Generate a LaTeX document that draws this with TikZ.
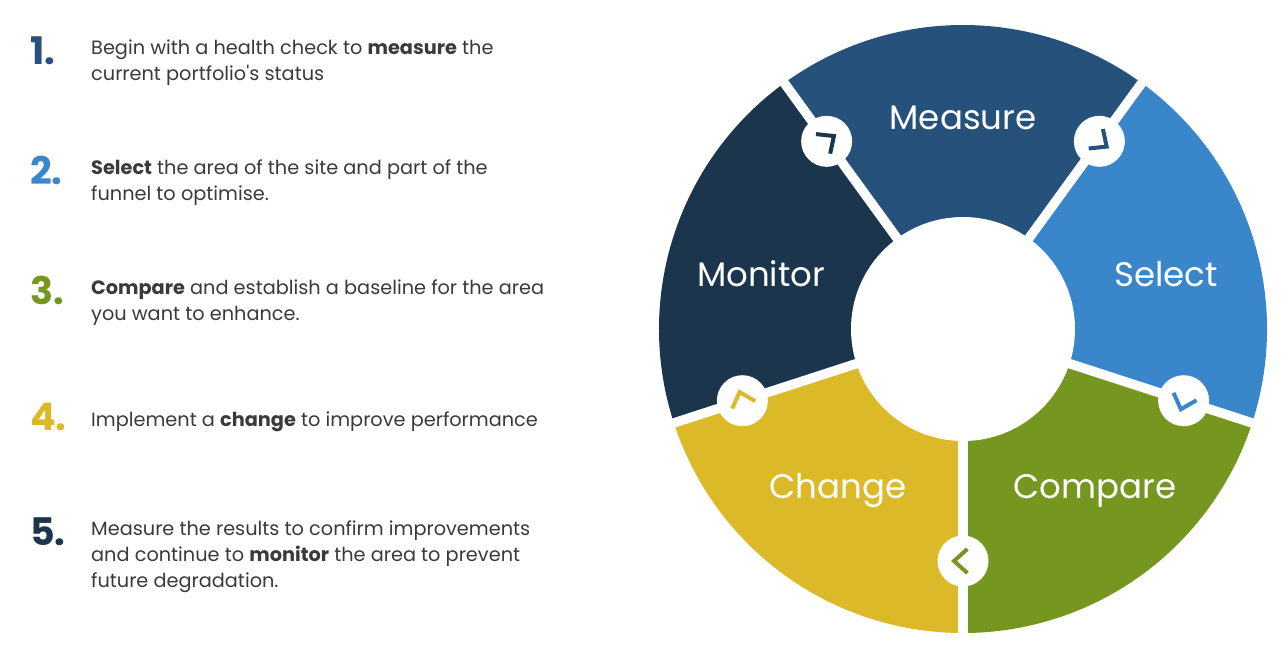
\documentclass[tikz,border=0pt]{standalone}
\usepackage{fontspec}
\setmainfont{Poppins}[Ligatures=TeXOff]
\definecolor{cMeasure}{HTML}{26517A}
\definecolor{cSelect}{HTML}{3A86CB}
\definecolor{cCompare}{HTML}{76971F}
\definecolor{cChange}{HTML}{DBB929}
\definecolor{cMonitor}{HTML}{1B354D}
\definecolor{cText}{HTML}{3A3A3A}
\tikzset{
  numstyle/.style={anchor=base west, inner sep=0pt, font=\fontsize{38}{38}\selectfont\bfseries},
  linestyle/.style={anchor=base west, inner sep=0pt, text=cText, font=\fontsize{19.3}{26}\selectfont},
  segstyle/.style={anchor=base, inner sep=0pt, text=white, font=\fontsize{34}{34}\selectfont},
  gapline/.style={white, line width=9.5pt},
  badge/.style={white},
  chev/.style={line width=4pt, line join=miter, line cap=butt}
}
\begin{document}
\begin{tikzpicture}[x=1pt,y=1pt]
\useasboundingbox (0,0) rectangle (1285,-657);
\fill[white] (0,0) rectangle (1285,-657);

% ---------- left list ----------
\node[numstyle, text=cMeasure] (n1) at (30,-64) {1.};
\node[linestyle] (t1a) at (91,-54) {Begin with a health check to \textbf{measure} the};
\node[linestyle] (t1b) at (91,-80) {current portfolio's status};

\node[numstyle, text=cSelect] (n2) at (30,-184) {2.};
\node[linestyle] (t2a) at (91,-174) {\textbf{Select} the area of the site and part of the};
\node[linestyle] (t2b) at (91,-200) {funnel to optimise.};

\node[numstyle, text=cCompare] (n3) at (30,-304) {3.};
\node[linestyle] (t3a) at (91,-294) {\textbf{Compare} and establish a baseline for the area};
\node[linestyle] (t3b) at (91,-320) {you want to enhance.};

\node[numstyle, text=cChange] (n4) at (30,-430) {4.};
\node[linestyle] (t4a) at (91,-426) {Implement a \textbf{change} to improve performance};

\node[numstyle, text=cMonitor] (n5) at (30,-545) {5.};
\node[linestyle] (t5a) at (91,-535) {Measure the results to confirm improvements};
\node[linestyle] (t5b) at (91,-561) {and continue to \textbf{monitor} the area to prevent};
\node[linestyle] (t5c) at (91,-587) {future degradation.};

% ---------- donut ----------
\begin{scope}[shift={(963,-329)}]
  \fill[cMeasure] (0,0) -- (54:304) arc[start angle=54, end angle=126, radius=304] -- cycle;
  \fill[cMonitor] (0,0) -- (126:304) arc[start angle=126, end angle=198, radius=304] -- cycle;
  \fill[cChange]  (0,0) -- (198:304) arc[start angle=198, end angle=270, radius=304] -- cycle;
  \fill[cCompare] (0,0) -- (270:304) arc[start angle=270, end angle=342, radius=304] -- cycle;
  \fill[cSelect]  (0,0) -- (-18:304) arc[start angle=-18, end angle=54, radius=304] -- cycle;
  \foreach \a in {54,126,198,270,342} \draw[gapline] (0,0) -- (\a:310);
  \fill[white] (0,0) circle[radius=112];
  \foreach \a in {54,126,198,270,342} \fill[badge] (\a:232) circle[radius=25.5];
  \foreach \t/\c in {126/cMonitor, 54/cMeasure, 342/cSelect, 270/cCompare, 198/cChange}{
    \begin{scope}[shift={(\t:232)}, rotate=\t-90]
      \draw[chev, \c] (9,0) +(138:18) -- (9,0) -- +(222:18);
    \end{scope}
  }
\end{scope}

\node[segstyle] (lMeasure) at (963,-129) {Measure};
\node[segstyle] (lSelect)  at (1166,-286) {Select};
\node[segstyle] (lMonitor) at (761,-286) {Monitor};
\node[segstyle] (lChange)  at (838,-498) {Change};
\node[segstyle] (lCompare) at (1095,-498) {Compare};
\end{tikzpicture}
\end{document}
